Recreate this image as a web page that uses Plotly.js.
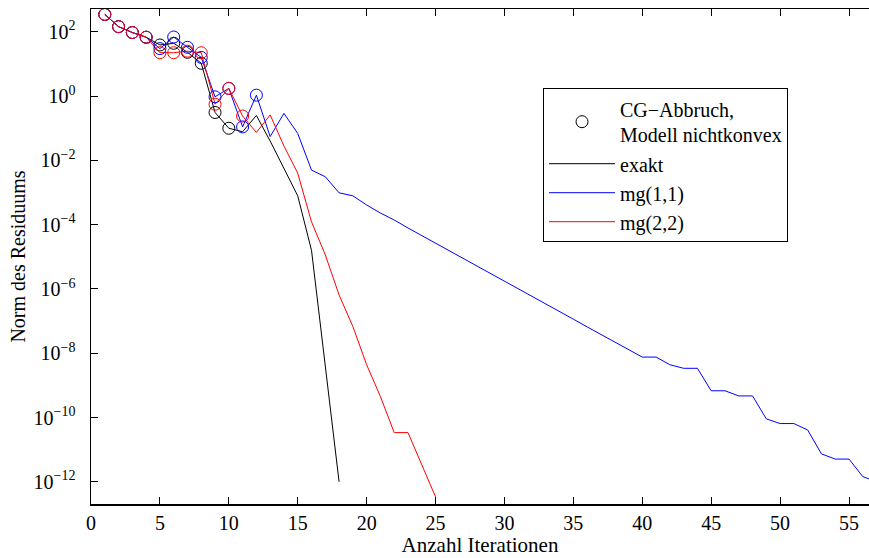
<!DOCTYPE html>
<html>
<head>
<meta charset="utf-8">
<script src="https://cdn.plot.ly/plotly-3.0.1.min.js"></script>
<style>html,body{margin:0;padding:0;background:#fff;}#chart{width:869px;height:558px;}</style>
</head>
<body>
<div id="chart"></div>
<script>
// Iterations
const itExakt = [1,2,3,4,5,6,7,8,9,10,11,12,13,14,15,16,17,18];
const resExakt = [3.47e2,1.45e2,9.5e1,6.8e1,3.9e1,4.4e1,2.3e1,1.05e1,3.1e-1,1.0e-1,7.8e-2,2.5e-1,4.0e-2,5.6e-3,7.9e-4,1.6e-5,4.0e-9,1.0e-12];
const cgExakt = [3.47e2,1.45e2,9.5e1,6.8e1,3.9e1,4.4e1,2.3e1,1.05e1,3.1e-1,1.0e-1];

const itMg11 = [1,2,3,4,5,6,7,8,9,10,11,12,13,14,15,16,17,18,19,20,21,22,23,24,25,26,27,28,29,30,31,32,33,34,35,36,37,38,39,40,41,42,43,44,45,46,47,48,49,50,51,52,53,54,55,56,57];
const resMg11 = [3.47e2,1.45e2,9.5e1,6.8e1,3.0e1,6.9e1,3.3e1,1.6e1,9.5e-1,1.74e0,1.1e-1,1.07e0,5.5e-2,2.9e-1,6.9e-2,5.0e-3,3.1e-3,9.8e-4,7.9e-4,4.1e-4,2.3e-4,1.4e-4,7.9e-5,4.6e-5,2.7e-5,1.55e-5,8.9e-6,5.2e-6,3.0e-6,1.74e-6,1.02e-6,5.9e-7,3.4e-7,2.0e-7,1.15e-7,6.6e-8,3.9e-8,2.2e-8,1.29e-8,7.6e-9,7.6e-9,4.4e-9,3.4e-9,3.4e-9,6.8e-10,6.8e-10,4.7e-10,4.7e-10,9.1e-11,6.5e-11,6.5e-11,4.1e-11,7.4e-12,5.1e-12,5.1e-12,1.45e-12,1.0e-12];
const cgMg11 = [3.47e2,1.45e2,9.5e1,6.8e1,3.0e1,6.9e1,3.3e1,1.6e1,9.5e-1,1.74e0,1.1e-1,1.07e0];

const itMg22 = [1,2,3,4,5,6,7,8,9,10,11,12,13,14,15,16,17,18,19,20,21,22,23,24,25];
const resMg22 = [3.47e2,1.45e2,9.5e1,6.8e1,2.24e1,2.24e1,2.5e1,2.24e1,5.6e-1,1.74e0,2.4e-1,7.4e-2,2.6e-1,2.8e-2,4.0e-3,1.23e-4,1.15e-5,6.5e-7,6.8e-8,4.4e-9,4.5e-10,3.4e-11,3.4e-11,3.4e-12,3.4e-13];
const cgMg22 = [3.47e2,1.45e2,9.5e1,6.8e1,2.24e1,2.24e1,2.5e1,2.24e1,5.6e-1,1.74e0,2.4e-1];

const xTicks = [0,5,10,15,20,25,30,35,40,45,50,55];
const yTickVals = [1e2,1e0,1e-2,1e-4,1e-6,1e-8,1e-10,1e-12];
const yTickText = ['10<sup>2</sup>','10<sup>0</sup>','10<sup>−2</sup>','10<sup>−4</sup>','10<sup>−6</sup>','10<sup>−8</sup>','10<sup>−10</sup>','10<sup>−12</sup>'];

const serif = 'Liberation Serif, Times New Roman, Times, serif';

const data = [
  {x: itExakt.slice(0, cgExakt.length), y: cgExakt, type:'scatter', mode:'markers',
   name:'CG−Abbruch,<br>Modell nichtkonvex',
   marker:{symbol:'circle-open', size:12, color:'#000', line:{width:1, color:'#000'}}},
  {x: itExakt, y: resExakt, type:'scatter', mode:'lines', name:'exakt', line:{color:'#000', width:1}},
  {x: itMg11, y: resMg11, type:'scatter', mode:'lines', name:'mg(1,1)', line:{color:'#0000ff', width:1}},
  {x: itMg22, y: resMg22, type:'scatter', mode:'lines', name:'mg(2,2)', line:{color:'#ff0000', width:1}},
  {x: itMg11.slice(0, cgMg11.length), y: cgMg11, type:'scatter', mode:'markers', showlegend:false,
   marker:{symbol:'circle-open', size:12, color:'#0000ff', line:{width:1, color:'#0000ff'}}},
  {x: itMg22.slice(0, cgMg22.length), y: cgMg22, type:'scatter', mode:'markers', showlegend:false,
   marker:{symbol:'circle-open', size:12, color:'#ff0000', line:{width:1, color:'#ff0000'}}}
];

const layout = {
  width: 869, height: 558,
  margin: {l: 91, r: 0, t: 9, b: 54},
  paper_bgcolor: '#fff', plot_bgcolor: '#fff',
  font: {family: serif, size: 20, color: '#000'},
  showlegend: true,
  legend: {x: 0.581, y: 0.84, xanchor: 'left', yanchor: 'top',
           bordercolor: '#000', borderwidth: 1, bgcolor: '#fff', itemwidth: 66,
           font: {family: serif, size: 20, color: '#000'}, tracegroupgap: 0},
  xaxis: {range: [0, 56.45], tickvals: xTicks, ticks: 'inside', ticklen: 7, tickwidth: 1,
          tickcolor: '#000', showline: true, linecolor: '#000', linewidth: 1.5, mirror: 'ticks',
          showgrid: false, zeroline: false, tickfont: {family: serif, size: 20},
          title: {text: 'Anzahl Iterationen', font: {family: serif, size: 21}, standoff: 2}},
  yaxis: {type: 'log', range: [-12.69, 2.71], tickvals: yTickVals, ticktext: yTickText,
          ticks: 'inside', ticklen: 7, tickwidth: 1, tickcolor: '#000',
          showline: true, linecolor: '#000', linewidth: 1.5, mirror: false,
          showgrid: false, zeroline: false, ticklabelstandoff: 10, tickfont: {family: serif, size: 20},
          title: {text: 'Norm des Residuums', font: {family: serif, size: 20}, standoff: 2}}
};

Plotly.newPlot('chart', data, layout, {displayModeBar: false, staticPlot: true});
</script>
</body>
</html>
